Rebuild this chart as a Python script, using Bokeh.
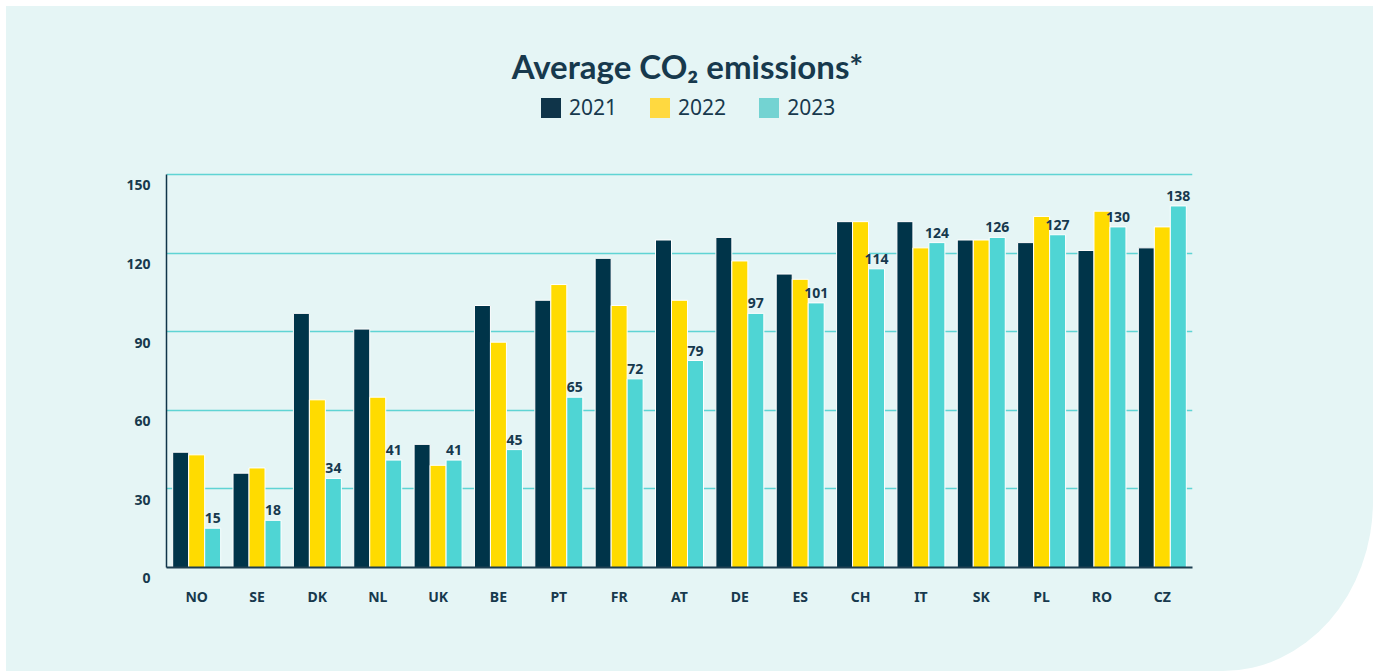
from bokeh.plotting import figure
from bokeh.models import (ColumnDataSource, FactorRange, Range1d, FixedTicker, Label,
                          Legend, LegendItem)
from bokeh.transform import dodge
from bokeh.embed import file_html
from bokeh.resources import INLINE
from bokeh.core.properties import value

countries = ["NO", "SE", "DK", "NL", "UK", "BE", "PT", "FR", "AT", "DE", "ES", "CH", "IT", "SK", "PL", "RO", "CZ"]
y2021 = [44, 36, 97, 91, 47, 100, 102, 118, 125, 126, 112, 132, 132, 125, 124, 121, 122]
y2022 = [43, 38, 64, 65, 39, 86, 108, 100, 102, 117, 110, 132, 122, 125, 134, 136, 130]
y2023 = [15, 18, 34, 41, 41, 45, 65, 72, 79, 97, 101, 114, 124, 126, 127, 130, 138]
years = ["2021", "2022", "2023"]
y_ticks = [0, 30, 60, 90, 120, 150]
y_tick_labels = ["0", "30", "60", "90", "120", "150"]
title_text = "Average CO\u2082 emissions*"

PANEL = "#E5F5F5"
DARK = "#17394D"
BAR_COLORS = ["#003449", "#FFDB00", "#4FD5D4"]
LEG_COLORS = ["#0F3449", "#FFD940", "#73D3D2"]

src = ColumnDataSource(dict(country=countries, y2021=y2021, y2022=y2022, y2023=y2023,
                            lbl=[str(v) for v in y2023]))

# frame spans from the canvas top down to the x axis; the value axis 0..150 occupies its lower 393px
FRAME_H = 567
Y_END = 150 * FRAME_H / 393.0

p = figure(x_range=FactorRange(factors=countries, range_padding=0),
           y_range=Range1d(0, Y_END),
           width=1373, height=671, output_backend="svg", toolbar_location=None,
           min_border_left=166, min_border_right=181, min_border_top=0, min_border_bottom=104,
           border_fill_alpha=0, background_fill_alpha=0, outline_line_color=None)
p.styles = {"background-color": PANEL,
            "clip-path": "inset(6px 0px 0px 6px round 0px 0px 150px 0px / 0px 0px 170px 0px)"}

off = 0.265
for i, (yr, col) in enumerate(zip(years, BAR_COLORS)):
    p.vbar(x=dodge("country", (i - 1) * off, range=p.x_range), top="y" + yr, width=off,
           source=src, fill_color=col, line_color="white", line_width=1)

# legend-only swatches (zero-height bars, invisible in the plot)
swatch = ColumnDataSource(dict(x=[countries[0]], top=[0]))
leg_r = []
for col in LEG_COLORS:
    leg_r.append(p.vbar(x="x", top="top", width=0.0, source=swatch, fill_color=col, line_color=None))

p.text(x=dodge("country", off, range=p.x_range), y="y2023", text="lbl", source=src,
       text_align="center", text_baseline="bottom", y_offset=-5,
       text_font=value("Noto Sans"), text_font_style="bold", text_font_size="14px", text_color=DARK)

legend = Legend(items=[LegendItem(label=y, renderers=[r]) for y, r in zip(years, leg_r)],
                orientation="horizontal", location=(372, 446),
                glyph_width=25, glyph_height=25, label_standoff=6, spacing=30,
                padding=0, margin=0, border_line_color=None, background_fill_alpha=0,
                label_text_font="Noto Sans", label_text_font_size="21px", label_text_color=DARK)
p.add_layout(legend, "center")

p.add_layout(Label(x=521, y=502, x_units="screen", y_units="screen", text=title_text,
                   text_align="center", text_baseline="alphabetic", text_font="Lato",
                   text_font_style="bold", text_font_size="33px", text_color=DARK))

p.xgrid.grid_line_color = None
p.ygrid.grid_line_color = "#5FD4D4"
p.ygrid.grid_line_width = 1.5
p.yaxis.ticker = FixedTicker(ticks=y_ticks)
p.yaxis.bounds = (0, 150)
# labels sit slightly below their grid lines, as in the original
p.yaxis.major_label_overrides = {t: "\n" + s for t, s in zip(y_ticks, y_tick_labels)}

for ax in (p.xaxis[0], p.yaxis[0]):
    ax.major_tick_line_color = None
    ax.minor_tick_line_color = None
    ax.major_tick_out = 0
    ax.major_tick_in = 0
    ax.major_label_text_font = "Noto Sans"
    ax.major_label_text_font_style = "bold"
    ax.major_label_text_font_size = "14px"
    ax.major_label_text_color = DARK
p.yaxis.axis_line_color = "#0F3449"
p.yaxis.axis_line_width = 1.5
p.yaxis.major_label_standoff = 16
p.yaxis.major_label_text_line_height = 1.1
p.xaxis.axis_line_color = "#1D3E50"
p.xaxis.axis_line_width = 2
p.xaxis.major_label_standoff = 19

open("out.html", "w").write(file_html(p, INLINE))
